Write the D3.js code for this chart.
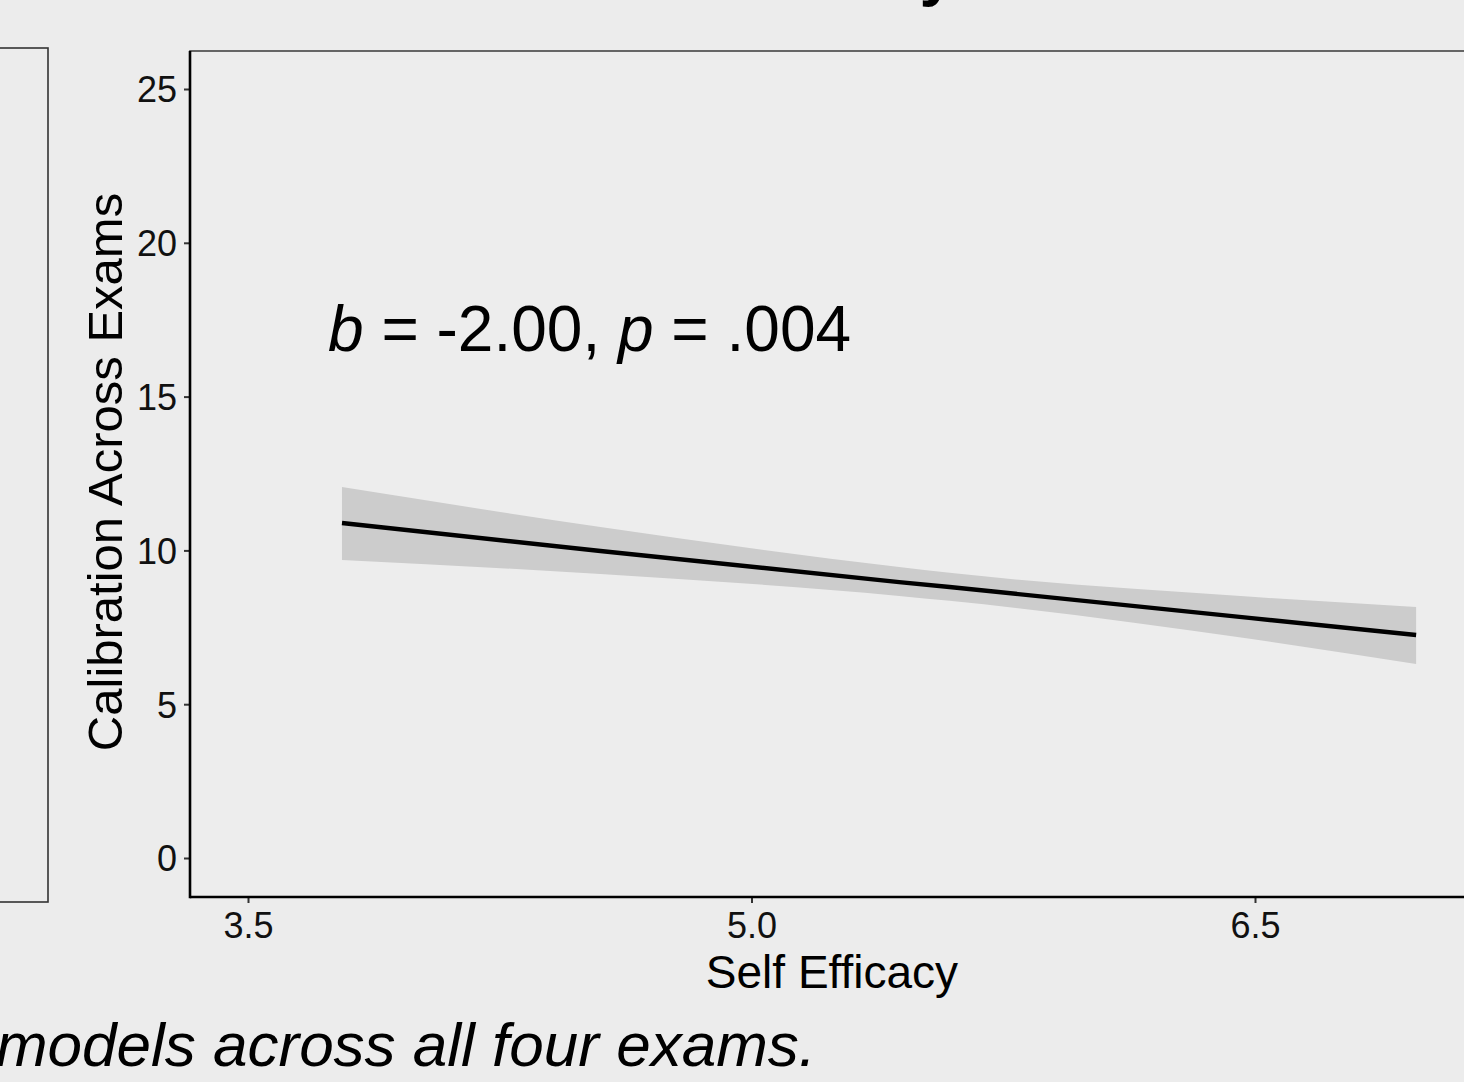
<!DOCTYPE html>
<html>
<head>
<meta charset="utf-8">
<script src="https://cdn.jsdelivr.net/npm/d3@7"></script>
<style>
  html, body { margin: 0; padding: 0; background: #ececec; }
  svg { display: block; }
  text { font-family: "Liberation Sans", Arial, sans-serif; }
</style>
</head>
<body>
<div id="chart"></div>
<script>
// ---- data ----
const xTicks = [3.5, 5.0, 6.5];
const yTicks = [0, 5, 10, 15, 20, 25];
const efficacy = [3.78, 4.55, 5.44, 5.59, 6.49, 6.98];
const fitted   = [10.89, 9.98, 8.97, 8.81, 7.80, 7.25];
const lowerCI  = [9.69, 9.23, 8.52, 8.36, 7.12, 6.31];
const upperCI  = [12.06, 10.76, 9.46, 9.27, 8.49, 8.16];
const xLabel = "Self Efficacy";
const yLabel = "Calibration Across Exams";
const titleText = "Self Efficacy";
const captionText = "models across all four exams.";

const W = 1464, H = 1082;
const svg = d3.select("#chart").append("svg").attr("width", W).attr("height", H);
svg.append("rect").attr("width", W).attr("height", H).attr("fill", "#ececec");

const x = d3.scaleLinear().domain([3.5, 6.5]).range([248, 1255]);
const y = d3.scaleLinear().domain([0, 25]).range([858, 89]);

const panel = {left: 190, top: 51, right: 1475, bottom: 897};

// partial title at top (cut off in the reference)
svg.append("text").attr("x", 955).attr("y", -6).attr("text-anchor", "end")
  .attr("font-size", 64).attr("font-weight", "bold").attr("fill", "#000").text(titleText);

// left neighbouring panel border (cut off)
svg.append("rect").attr("x", -10).attr("y", 48).attr("width", 58).attr("height", 854)
  .attr("fill", "none").attr("stroke", "#333").attr("stroke-width", 1.6);

// panel border
svg.append("rect").attr("x", panel.left).attr("y", panel.top)
  .attr("width", panel.right - panel.left).attr("height", panel.bottom - panel.top)
  .attr("fill", "#ededed").attr("stroke", "#444").attr("stroke-width", 1.6);

const pts = efficacy.map((e, i) => ({x: e, fit: fitted[i], lo: lowerCI[i], hi: upperCI[i]}));

svg.append("path").datum(pts)
  .attr("d", d3.area().x(d => x(d.x)).y0(d => y(d.lo)).y1(d => y(d.hi)).curve(d3.curveMonotoneX))
  .attr("fill", "#cccccc");

svg.append("path").datum(pts)
  .attr("d", d3.line().x(d => x(d.x)).y(d => y(d.fit)))
  .attr("fill", "none").attr("stroke", "#000").attr("stroke-width", 4.4);

// axes
const yAxis = svg.append("g").attr("transform", `translate(${panel.left},0)`)
  .call(d3.axisLeft(y).tickValues(yTicks).tickFormat(d3.format("d")).tickSize(6).tickPadding(7));
const xAxis = svg.append("g").attr("transform", `translate(0,${panel.bottom})`)
  .call(d3.axisBottom(x).tickValues(xTicks).tickFormat(d3.format(".1f")).tickSize(6).tickPadding(6));
[yAxis, xAxis].forEach(g => {
  g.select(".domain").remove();
  g.selectAll(".tick line").attr("stroke", "#333").attr("stroke-width", 2);
  g.selectAll(".tick text").attr("font-size", 36).attr("fill", "#111")
    .attr("font-family", '"Liberation Sans", Arial, sans-serif');
});
xAxis.selectAll(".tick text").attr("dy", null).attr("y", 41);
yAxis.selectAll(".tick text").attr("dy", "0.36em");

// axis lines
svg.append("line").attr("x1", panel.left).attr("x2", panel.left)
  .attr("y1", panel.top).attr("y2", panel.bottom + 1.2).attr("stroke", "#000").attr("stroke-width", 2.6);
svg.append("line").attr("x1", panel.left).attr("x2", panel.right)
  .attr("y1", panel.bottom).attr("y2", panel.bottom).attr("stroke", "#000").attr("stroke-width", 2.6);

// axis titles
svg.append("text").attr("x", 832).attr("y", 988).attr("text-anchor", "middle")
  .attr("font-size", 46).attr("fill", "#000").text(xLabel);
svg.append("text").attr("transform", "translate(122,472) rotate(-90)").attr("text-anchor", "middle")
  .attr("font-size", 49).attr("fill", "#000").text(yLabel);

// annotation
const ann = svg.append("text").attr("x", 328).attr("y", 351).attr("font-size", 64).attr("fill", "#000");
ann.append("tspan").attr("font-style", "italic").text("b");
ann.append("tspan").text(" = -2.00, ");
ann.append("tspan").attr("font-style", "italic").text("p");
ann.append("tspan").text(" = .004");

// caption (cut off in the reference)
svg.append("text").attr("x", 816).attr("y", 1066).attr("text-anchor", "end")
  .attr("font-size", 62).attr("font-style", "italic").attr("fill", "#000").text(captionText);
</script>
</body>
</html>
